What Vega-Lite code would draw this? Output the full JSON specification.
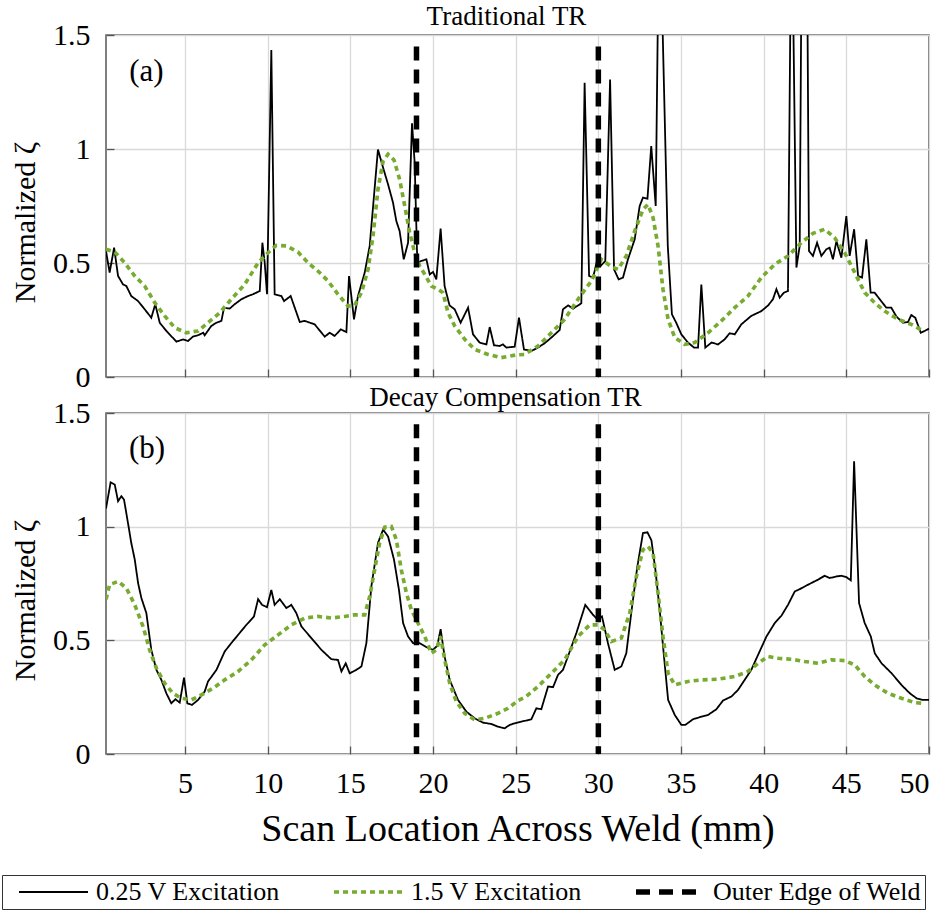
{
  "$schema": "https://vega.github.io/schema/vega-lite/v6.json",
  "padding": {"left": 1, "top": 2, "right": 5, "bottom": 0},
  "background": "white",
  "config": {
    "font": "Liberation Serif",
    "view": {"stroke": "#555555", "strokeWidth": 1.5},
    "axis": {
      "labelFont": "Liberation Serif", "labelFontSize": 30, "labelColor": "#000000",
      "titleFont": "Liberation Serif", "titleFontSize": 30, "titleFontWeight": "normal", "titleColor": "#000000",
      "gridColor": "#d9d9d9", "gridWidth": 1.3, "tickColor": "#555555", "tickSize": -8, "tickWidth": 1.3,
      "domain": false
    },
    "title": {"font": "Liberation Serif", "fontSize": 27, "fontWeight": "normal", "color": "#000000"},
    "legend": {"orient": "none", "legendX": -104, "legendY": 840, "direction": "horizontal", "symbolType": "M0,0H6.9", "symbolSize": 400, "labelOffset": 64, "columnPadding": 40, "strokeColor": "#333333", "padding": 4, "labelFont": "Liberation Serif", "labelFontSize": 26, "labelColor": "#000000", "labelLimit": 500}
  },
  "datasets": {
    "a": [
      {"series":"0.25 V Excitation","x":0.22,"y":0.553},{"series":"0.25 V Excitation","x":0.44,"y":0.458},{"series":"0.25 V Excitation","x":0.71,"y":0.567},{"series":"0.25 V Excitation","x":0.95,"y":0.443},{"series":"0.25 V Excitation","x":1.25,"y":0.406},{"series":"0.25 V Excitation","x":1.45,"y":0.399},{"series":"0.25 V Excitation","x":1.75,"y":0.355},{"series":"0.25 V Excitation","x":2.16,"y":0.333},{"series":"0.25 V Excitation","x":2.56,"y":0.297},{"series":"0.25 V Excitation","x":2.96,"y":0.26},{"series":"0.25 V Excitation","x":3.2,"y":0.319},{"series":"0.25 V Excitation","x":3.47,"y":0.238},{"series":"0.25 V Excitation","x":3.87,"y":0.202},{"series":"0.25 V Excitation","x":4.48,"y":0.155},{"series":"0.25 V Excitation","x":4.88,"y":0.165},{"series":"0.25 V Excitation","x":5.18,"y":0.158},{"series":"0.25 V Excitation","x":5.48,"y":0.177},{"series":"0.25 V Excitation","x":5.79,"y":0.183},{"series":"0.25 V Excitation","x":6.1,"y":0.194},{"series":"0.25 V Excitation","x":6.19,"y":0.183},{"series":"0.25 V Excitation","x":6.59,"y":0.224},{"series":"0.25 V Excitation","x":6.9,"y":0.238},{"series":"0.25 V Excitation","x":7.2,"y":0.246},{"series":"0.25 V Excitation","x":7.36,"y":0.304},{"series":"0.25 V Excitation","x":7.7,"y":0.3},{"series":"0.25 V Excitation","x":8.0,"y":0.319},{"series":"0.25 V Excitation","x":8.41,"y":0.341},{"series":"0.25 V Excitation","x":8.81,"y":0.355},{"series":"0.25 V Excitation","x":9.11,"y":0.363},{"series":"0.25 V Excitation","x":9.52,"y":0.377},{"series":"0.25 V Excitation","x":9.68,"y":0.589},{"series":"0.25 V Excitation","x":9.82,"y":0.501},{"series":"0.25 V Excitation","x":9.96,"y":0.363},{"series":"0.25 V Excitation","x":10.22,"y":1.434},{"series":"0.25 V Excitation","x":10.42,"y":0.363},{"series":"0.25 V Excitation","x":10.83,"y":0.355},{"series":"0.25 V Excitation","x":10.99,"y":0.333},{"series":"0.25 V Excitation","x":11.39,"y":0.355},{"series":"0.25 V Excitation","x":11.94,"y":0.241},{"series":"0.25 V Excitation","x":12.24,"y":0.246},{"series":"0.25 V Excitation","x":12.84,"y":0.231},{"series":"0.25 V Excitation","x":13.45,"y":0.177},{"series":"0.25 V Excitation","x":13.75,"y":0.194},{"series":"0.25 V Excitation","x":14.05,"y":0.18},{"series":"0.25 V Excitation","x":14.42,"y":0.209},{"series":"0.25 V Excitation","x":14.76,"y":0.197},{"series":"0.25 V Excitation","x":14.92,"y":0.443},{"series":"0.25 V Excitation","x":15.22,"y":0.253},{"series":"0.25 V Excitation","x":15.46,"y":0.355},{"series":"0.25 V Excitation","x":15.87,"y":0.458},{"series":"0.25 V Excitation","x":16.17,"y":0.575},{"series":"0.25 V Excitation","x":16.67,"y":0.998},{"series":"0.25 V Excitation","x":16.98,"y":0.918},{"series":"0.25 V Excitation","x":17.28,"y":0.845},{"series":"0.25 V Excitation","x":17.58,"y":0.765},{"series":"0.25 V Excitation","x":17.78,"y":0.684},{"series":"0.25 V Excitation","x":17.98,"y":0.64},{"series":"0.25 V Excitation","x":18.23,"y":0.516},{"series":"0.25 V Excitation","x":18.49,"y":0.589},{"series":"0.25 V Excitation","x":18.73,"y":1.113},{"series":"0.25 V Excitation","x":18.89,"y":0.94},{"series":"0.25 V Excitation","x":19.05,"y":0.501},{"series":"0.25 V Excitation","x":19.29,"y":0.509},{"series":"0.25 V Excitation","x":19.6,"y":0.516},{"series":"0.25 V Excitation","x":19.8,"y":0.45},{"series":"0.25 V Excitation","x":20.0,"y":0.461},{"series":"0.25 V Excitation","x":20.2,"y":0.428},{"series":"0.25 V Excitation","x":20.46,"y":0.651},{"series":"0.25 V Excitation","x":20.7,"y":0.399},{"series":"0.25 V Excitation","x":21.0,"y":0.314},{"series":"0.25 V Excitation","x":21.31,"y":0.297},{"series":"0.25 V Excitation","x":21.67,"y":0.238},{"series":"0.25 V Excitation","x":22.12,"y":0.304},{"series":"0.25 V Excitation","x":22.42,"y":0.187},{"series":"0.25 V Excitation","x":22.82,"y":0.151},{"series":"0.25 V Excitation","x":23.23,"y":0.143},{"series":"0.25 V Excitation","x":23.43,"y":0.219},{"series":"0.25 V Excitation","x":23.69,"y":0.139},{"series":"0.25 V Excitation","x":24.03,"y":0.136},{"series":"0.25 V Excitation","x":24.23,"y":0.143},{"series":"0.25 V Excitation","x":24.44,"y":0.129},{"series":"0.25 V Excitation","x":24.94,"y":0.133},{"series":"0.25 V Excitation","x":25.2,"y":0.26},{"series":"0.25 V Excitation","x":25.5,"y":0.121},{"series":"0.25 V Excitation","x":25.95,"y":0.114},{"series":"0.25 V Excitation","x":26.35,"y":0.129},{"series":"0.25 V Excitation","x":26.75,"y":0.148},{"series":"0.25 V Excitation","x":27.16,"y":0.173},{"series":"0.25 V Excitation","x":27.66,"y":0.206},{"series":"0.25 V Excitation","x":27.86,"y":0.297},{"series":"0.25 V Excitation","x":28.17,"y":0.314},{"series":"0.25 V Excitation","x":28.47,"y":0.3},{"series":"0.25 V Excitation","x":28.97,"y":0.323},{"series":"0.25 V Excitation","x":29.17,"y":1.291},{"series":"0.25 V Excitation","x":29.44,"y":0.443},{"series":"0.25 V Excitation","x":29.68,"y":0.436},{"series":"0.25 V Excitation","x":29.94,"y":0.516},{"series":"0.25 V Excitation","x":30.14,"y":0.487},{"series":"0.25 V Excitation","x":30.42,"y":0.509},{"series":"0.25 V Excitation","x":30.71,"y":1.305},{"series":"0.25 V Excitation","x":30.95,"y":0.472},{"series":"0.25 V Excitation","x":31.23,"y":0.428},{"series":"0.25 V Excitation","x":31.49,"y":0.436},{"series":"0.25 V Excitation","x":31.79,"y":0.516},{"series":"0.25 V Excitation","x":32.2,"y":0.604},{"series":"0.25 V Excitation","x":32.5,"y":0.75},{"series":"0.25 V Excitation","x":32.7,"y":0.787},{"series":"0.25 V Excitation","x":32.97,"y":0.782},{"series":"0.25 V Excitation","x":33.2,"y":1.013},{"series":"0.25 V Excitation","x":33.47,"y":0.75},{"series":"0.25 V Excitation","x":33.62,"y":1.7},{"series":"0.25 V Excitation","x":33.83,"y":1.7},{"series":"0.25 V Excitation","x":34.2,"y":0.575},{"series":"0.25 V Excitation","x":34.45,"y":0.275},{"series":"0.25 V Excitation","x":34.71,"y":0.238},{"series":"0.25 V Excitation","x":35.02,"y":0.187},{"series":"0.25 V Excitation","x":35.42,"y":0.151},{"series":"0.25 V Excitation","x":35.79,"y":0.129},{"series":"0.25 V Excitation","x":36.03,"y":0.129},{"series":"0.25 V Excitation","x":36.23,"y":0.406},{"series":"0.25 V Excitation","x":36.47,"y":0.129},{"series":"0.25 V Excitation","x":36.84,"y":0.151},{"series":"0.25 V Excitation","x":37.24,"y":0.143},{"series":"0.25 V Excitation","x":37.64,"y":0.165},{"series":"0.25 V Excitation","x":37.94,"y":0.192},{"series":"0.25 V Excitation","x":38.25,"y":0.187},{"series":"0.25 V Excitation","x":38.65,"y":0.231},{"series":"0.25 V Excitation","x":39.25,"y":0.268},{"series":"0.25 V Excitation","x":39.86,"y":0.289},{"series":"0.25 V Excitation","x":40.27,"y":0.314},{"series":"0.25 V Excitation","x":40.56,"y":0.341},{"series":"0.25 V Excitation","x":40.77,"y":0.385},{"series":"0.25 V Excitation","x":40.97,"y":0.348},{"series":"0.25 V Excitation","x":41.23,"y":0.37},{"series":"0.25 V Excitation","x":41.47,"y":0.377},{"series":"0.25 V Excitation","x":41.63,"y":1.7},{"series":"0.25 V Excitation","x":41.77,"y":1.7},{"series":"0.25 V Excitation","x":41.98,"y":0.48},{"series":"0.25 V Excitation","x":42.18,"y":0.575},{"series":"0.25 V Excitation","x":42.28,"y":1.7},{"series":"0.25 V Excitation","x":42.64,"y":1.7},{"series":"0.25 V Excitation","x":42.74,"y":0.553},{"series":"0.25 V Excitation","x":42.98,"y":0.531},{"series":"0.25 V Excitation","x":43.23,"y":0.589},{"series":"0.25 V Excitation","x":43.49,"y":0.531},{"series":"0.25 V Excitation","x":43.79,"y":0.56},{"series":"0.25 V Excitation","x":43.99,"y":0.567},{"series":"0.25 V Excitation","x":44.19,"y":0.516},{"series":"0.25 V Excitation","x":44.4,"y":0.596},{"series":"0.25 V Excitation","x":44.7,"y":0.523},{"series":"0.25 V Excitation","x":45.0,"y":0.706},{"series":"0.25 V Excitation","x":45.2,"y":0.531},{"series":"0.25 V Excitation","x":45.47,"y":0.648},{"series":"0.25 V Excitation","x":45.71,"y":0.443},{"series":"0.25 V Excitation","x":45.95,"y":0.436},{"series":"0.25 V Excitation","x":46.21,"y":0.604},{"series":"0.25 V Excitation","x":46.47,"y":0.37},{"series":"0.25 V Excitation","x":46.71,"y":0.37},{"series":"0.25 V Excitation","x":47.02,"y":0.341},{"series":"0.25 V Excitation","x":47.42,"y":0.304},{"series":"0.25 V Excitation","x":47.72,"y":0.304},{"series":"0.25 V Excitation","x":48.03,"y":0.265},{"series":"0.25 V Excitation","x":48.43,"y":0.238},{"series":"0.25 V Excitation","x":48.73,"y":0.241},{"series":"0.25 V Excitation","x":48.93,"y":0.272},{"series":"0.25 V Excitation","x":49.17,"y":0.26},{"series":"0.25 V Excitation","x":49.5,"y":0.194},{"series":"0.25 V Excitation","x":49.74,"y":0.202},{"series":"0.25 V Excitation","x":50.0,"y":0.212},
      {"series":"1.5 V Excitation","x":0.22,"y":0.56},{"series":"1.5 V Excitation","x":0.75,"y":0.548},{"series":"1.5 V Excitation","x":1.35,"y":0.501},{"series":"1.5 V Excitation","x":1.96,"y":0.443},{"series":"1.5 V Excitation","x":2.56,"y":0.399},{"series":"1.5 V Excitation","x":3.17,"y":0.326},{"series":"1.5 V Excitation","x":3.77,"y":0.268},{"series":"1.5 V Excitation","x":4.38,"y":0.216},{"series":"1.5 V Excitation","x":5.08,"y":0.194},{"series":"1.5 V Excitation","x":5.79,"y":0.202},{"series":"1.5 V Excitation","x":6.39,"y":0.238},{"series":"1.5 V Excitation","x":7.1,"y":0.282},{"series":"1.5 V Excitation","x":7.8,"y":0.341},{"series":"1.5 V Excitation","x":8.61,"y":0.406},{"series":"1.5 V Excitation","x":9.42,"y":0.501},{"series":"1.5 V Excitation","x":10.02,"y":0.545},{"series":"1.5 V Excitation","x":10.52,"y":0.577},{"series":"1.5 V Excitation","x":11.13,"y":0.575},{"series":"1.5 V Excitation","x":11.83,"y":0.548},{"series":"1.5 V Excitation","x":12.44,"y":0.501},{"series":"1.5 V Excitation","x":13.04,"y":0.465},{"series":"1.5 V Excitation","x":13.65,"y":0.421},{"series":"1.5 V Excitation","x":14.25,"y":0.363},{"series":"1.5 V Excitation","x":14.86,"y":0.311},{"series":"1.5 V Excitation","x":15.26,"y":0.314},{"series":"1.5 V Excitation","x":15.67,"y":0.37},{"series":"1.5 V Excitation","x":16.07,"y":0.472},{"series":"1.5 V Excitation","x":16.37,"y":0.618},{"series":"1.5 V Excitation","x":16.67,"y":0.823},{"series":"1.5 V Excitation","x":16.98,"y":0.947},{"series":"1.5 V Excitation","x":17.28,"y":0.977},{"series":"1.5 V Excitation","x":17.64,"y":0.952},{"series":"1.5 V Excitation","x":17.98,"y":0.867},{"series":"1.5 V Excitation","x":18.29,"y":0.75},{"series":"1.5 V Excitation","x":18.59,"y":0.633},{"series":"1.5 V Excitation","x":18.89,"y":0.545},{"series":"1.5 V Excitation","x":19.19,"y":0.487},{"series":"1.5 V Excitation","x":19.5,"y":0.45},{"series":"1.5 V Excitation","x":19.9,"y":0.399},{"series":"1.5 V Excitation","x":20.3,"y":0.385},{"series":"1.5 V Excitation","x":20.6,"y":0.37},{"series":"1.5 V Excitation","x":20.91,"y":0.282},{"series":"1.5 V Excitation","x":21.31,"y":0.224},{"series":"1.5 V Excitation","x":21.92,"y":0.165},{"series":"1.5 V Excitation","x":22.52,"y":0.121},{"series":"1.5 V Excitation","x":23.33,"y":0.099},{"series":"1.5 V Excitation","x":24.13,"y":0.085},{"series":"1.5 V Excitation","x":25.04,"y":0.097},{"series":"1.5 V Excitation","x":25.54,"y":0.099},{"series":"1.5 V Excitation","x":26.35,"y":0.136},{"series":"1.5 V Excitation","x":27.16,"y":0.194},{"series":"1.5 V Excitation","x":27.96,"y":0.253},{"series":"1.5 V Excitation","x":28.77,"y":0.341},{"series":"1.5 V Excitation","x":29.58,"y":0.421},{"series":"1.5 V Excitation","x":30.18,"y":0.516},{"series":"1.5 V Excitation","x":30.79,"y":0.484},{"series":"1.5 V Excitation","x":31.19,"y":0.472},{"series":"1.5 V Excitation","x":31.69,"y":0.531},{"series":"1.5 V Excitation","x":32.2,"y":0.64},{"series":"1.5 V Excitation","x":32.7,"y":0.735},{"series":"1.5 V Excitation","x":33.0,"y":0.757},{"series":"1.5 V Excitation","x":33.31,"y":0.699},{"series":"1.5 V Excitation","x":33.61,"y":0.575},{"series":"1.5 V Excitation","x":33.91,"y":0.385},{"series":"1.5 V Excitation","x":34.22,"y":0.253},{"series":"1.5 V Excitation","x":34.62,"y":0.173},{"series":"1.5 V Excitation","x":35.22,"y":0.143},{"series":"1.5 V Excitation","x":35.83,"y":0.151},{"series":"1.5 V Excitation","x":36.64,"y":0.194},{"series":"1.5 V Excitation","x":37.44,"y":0.246},{"series":"1.5 V Excitation","x":38.25,"y":0.304},{"series":"1.5 V Excitation","x":39.05,"y":0.355},{"series":"1.5 V Excitation","x":39.86,"y":0.436},{"series":"1.5 V Excitation","x":40.67,"y":0.494},{"series":"1.5 V Excitation","x":41.47,"y":0.531},{"series":"1.5 V Excitation","x":42.28,"y":0.589},{"series":"1.5 V Excitation","x":42.98,"y":0.63},{"series":"1.5 V Excitation","x":43.69,"y":0.648},{"series":"1.5 V Excitation","x":44.29,"y":0.611},{"series":"1.5 V Excitation","x":44.9,"y":0.545},{"series":"1.5 V Excitation","x":45.51,"y":0.458},{"series":"1.5 V Excitation","x":46.11,"y":0.37},{"series":"1.5 V Excitation","x":46.71,"y":0.326},{"series":"1.5 V Excitation","x":47.32,"y":0.289},{"series":"1.5 V Excitation","x":48.13,"y":0.253},{"series":"1.5 V Excitation","x":48.93,"y":0.231},{"series":"1.5 V Excitation","x":49.64,"y":0.202}
    ],
    "b": [
      {"series":"0.25 V Excitation","x":0.22,"y":1.08},{"series":"0.25 V Excitation","x":0.5,"y":1.195},{"series":"0.25 V Excitation","x":0.75,"y":1.185},{"series":"0.25 V Excitation","x":0.95,"y":1.112},{"series":"0.25 V Excitation","x":1.15,"y":1.134},{"series":"0.25 V Excitation","x":1.31,"y":1.119},{"series":"0.25 V Excitation","x":1.55,"y":1.016},{"series":"0.25 V Excitation","x":1.75,"y":0.928},{"series":"0.25 V Excitation","x":1.96,"y":0.855},{"series":"0.25 V Excitation","x":2.16,"y":0.752},{"series":"0.25 V Excitation","x":2.36,"y":0.686},{"series":"0.25 V Excitation","x":2.66,"y":0.62},{"series":"0.25 V Excitation","x":2.96,"y":0.458},{"series":"0.25 V Excitation","x":3.27,"y":0.37},{"series":"0.25 V Excitation","x":3.57,"y":0.326},{"series":"0.25 V Excitation","x":3.87,"y":0.267},{"series":"0.25 V Excitation","x":4.17,"y":0.223},{"series":"0.25 V Excitation","x":4.42,"y":0.241},{"series":"0.25 V Excitation","x":4.68,"y":0.226},{"series":"0.25 V Excitation","x":4.94,"y":0.336},{"series":"0.25 V Excitation","x":5.14,"y":0.223},{"series":"0.25 V Excitation","x":5.42,"y":0.216},{"series":"0.25 V Excitation","x":5.79,"y":0.238},{"series":"0.25 V Excitation","x":6.19,"y":0.275},{"series":"0.25 V Excitation","x":6.39,"y":0.319},{"series":"0.25 V Excitation","x":6.9,"y":0.37},{"series":"0.25 V Excitation","x":7.4,"y":0.451},{"series":"0.25 V Excitation","x":7.8,"y":0.488},{"series":"0.25 V Excitation","x":8.21,"y":0.524},{"series":"0.25 V Excitation","x":8.71,"y":0.568},{"series":"0.25 V Excitation","x":9.17,"y":0.605},{"series":"0.25 V Excitation","x":9.42,"y":0.681},{"series":"0.25 V Excitation","x":9.66,"y":0.656},{"series":"0.25 V Excitation","x":9.96,"y":0.646},{"series":"0.25 V Excitation","x":10.22,"y":0.722},{"series":"0.25 V Excitation","x":10.42,"y":0.656},{"series":"0.25 V Excitation","x":10.73,"y":0.681},{"series":"0.25 V Excitation","x":11.13,"y":0.642},{"series":"0.25 V Excitation","x":11.43,"y":0.656},{"series":"0.25 V Excitation","x":11.73,"y":0.62},{"series":"0.25 V Excitation","x":12.04,"y":0.561},{"series":"0.25 V Excitation","x":12.64,"y":0.51},{"series":"0.25 V Excitation","x":13.25,"y":0.458},{"series":"0.25 V Excitation","x":13.85,"y":0.417},{"series":"0.25 V Excitation","x":14.25,"y":0.414},{"series":"0.25 V Excitation","x":14.46,"y":0.363},{"series":"0.25 V Excitation","x":14.72,"y":0.399},{"series":"0.25 V Excitation","x":14.96,"y":0.355},{"series":"0.25 V Excitation","x":15.36,"y":0.37},{"series":"0.25 V Excitation","x":15.67,"y":0.385},{"series":"0.25 V Excitation","x":15.97,"y":0.488},{"series":"0.25 V Excitation","x":16.27,"y":0.737},{"series":"0.25 V Excitation","x":16.67,"y":0.928},{"series":"0.25 V Excitation","x":16.98,"y":0.987},{"series":"0.25 V Excitation","x":17.28,"y":0.957},{"series":"0.25 V Excitation","x":17.64,"y":0.855},{"series":"0.25 V Excitation","x":17.94,"y":0.722},{"series":"0.25 V Excitation","x":18.19,"y":0.576},{"series":"0.25 V Excitation","x":18.49,"y":0.517},{"series":"0.25 V Excitation","x":18.79,"y":0.488},{"series":"0.25 V Excitation","x":19.19,"y":0.488},{"series":"0.25 V Excitation","x":19.6,"y":0.47},{"series":"0.25 V Excitation","x":20.0,"y":0.458},{"series":"0.25 V Excitation","x":20.26,"y":0.476},{"series":"0.25 V Excitation","x":20.46,"y":0.549},{"series":"0.25 V Excitation","x":20.7,"y":0.429},{"series":"0.25 V Excitation","x":21.01,"y":0.326},{"series":"0.25 V Excitation","x":21.51,"y":0.238},{"series":"0.25 V Excitation","x":22.02,"y":0.186},{"series":"0.25 V Excitation","x":22.52,"y":0.157},{"series":"0.25 V Excitation","x":23.02,"y":0.138},{"series":"0.25 V Excitation","x":23.53,"y":0.132},{"series":"0.25 V Excitation","x":23.93,"y":0.12},{"series":"0.25 V Excitation","x":24.33,"y":0.113},{"series":"0.25 V Excitation","x":24.64,"y":0.128},{"series":"0.25 V Excitation","x":24.94,"y":0.135},{"series":"0.25 V Excitation","x":25.34,"y":0.142},{"series":"0.25 V Excitation","x":25.95,"y":0.153},{"series":"0.25 V Excitation","x":26.25,"y":0.201},{"series":"0.25 V Excitation","x":26.55,"y":0.197},{"series":"0.25 V Excitation","x":26.96,"y":0.297},{"series":"0.25 V Excitation","x":27.26,"y":0.294},{"series":"0.25 V Excitation","x":27.56,"y":0.348},{"series":"0.25 V Excitation","x":27.86,"y":0.37},{"series":"0.25 V Excitation","x":28.27,"y":0.451},{"series":"0.25 V Excitation","x":28.67,"y":0.532},{"series":"0.25 V Excitation","x":29.21,"y":0.656},{"series":"0.25 V Excitation","x":29.68,"y":0.612},{"series":"0.25 V Excitation","x":29.94,"y":0.593},{"series":"0.25 V Excitation","x":30.22,"y":0.605},{"series":"0.25 V Excitation","x":30.58,"y":0.488},{"series":"0.25 V Excitation","x":30.99,"y":0.37},{"series":"0.25 V Excitation","x":31.39,"y":0.385},{"series":"0.25 V Excitation","x":31.69,"y":0.443},{"series":"0.25 V Excitation","x":31.99,"y":0.62},{"series":"0.25 V Excitation","x":32.36,"y":0.825},{"series":"0.25 V Excitation","x":32.7,"y":0.972},{"series":"0.25 V Excitation","x":32.97,"y":0.975},{"series":"0.25 V Excitation","x":33.21,"y":0.94},{"series":"0.25 V Excitation","x":33.45,"y":0.811},{"series":"0.25 V Excitation","x":33.71,"y":0.634},{"series":"0.25 V Excitation","x":33.97,"y":0.429},{"series":"0.25 V Excitation","x":34.22,"y":0.238},{"series":"0.25 V Excitation","x":34.62,"y":0.172},{"series":"0.25 V Excitation","x":35.02,"y":0.128},{"series":"0.25 V Excitation","x":35.26,"y":0.128},{"series":"0.25 V Excitation","x":35.73,"y":0.153},{"series":"0.25 V Excitation","x":36.23,"y":0.164},{"series":"0.25 V Excitation","x":36.64,"y":0.172},{"series":"0.25 V Excitation","x":37.14,"y":0.197},{"series":"0.25 V Excitation","x":37.54,"y":0.235},{"series":"0.25 V Excitation","x":38.05,"y":0.253},{"series":"0.25 V Excitation","x":38.45,"y":0.282},{"series":"0.25 V Excitation","x":38.85,"y":0.326},{"series":"0.25 V Excitation","x":39.25,"y":0.37},{"series":"0.25 V Excitation","x":39.66,"y":0.436},{"series":"0.25 V Excitation","x":40.17,"y":0.517},{"series":"0.25 V Excitation","x":40.67,"y":0.576},{"series":"0.25 V Excitation","x":41.07,"y":0.608},{"series":"0.25 V Excitation","x":41.47,"y":0.656},{"series":"0.25 V Excitation","x":41.88,"y":0.715},{"series":"0.25 V Excitation","x":42.18,"y":0.725},{"series":"0.25 V Excitation","x":42.48,"y":0.737},{"series":"0.25 V Excitation","x":42.88,"y":0.752},{"series":"0.25 V Excitation","x":43.29,"y":0.767},{"series":"0.25 V Excitation","x":43.69,"y":0.784},{"series":"0.25 V Excitation","x":43.99,"y":0.774},{"series":"0.25 V Excitation","x":44.4,"y":0.781},{"series":"0.25 V Excitation","x":44.7,"y":0.784},{"series":"0.25 V Excitation","x":45.0,"y":0.778},{"series":"0.25 V Excitation","x":45.27,"y":0.764},{"series":"0.25 V Excitation","x":45.47,"y":1.288},{"series":"0.25 V Excitation","x":45.77,"y":0.664},{"series":"0.25 V Excitation","x":46.11,"y":0.576},{"series":"0.25 V Excitation","x":46.48,"y":0.517},{"series":"0.25 V Excitation","x":46.72,"y":0.443},{"series":"0.25 V Excitation","x":47.13,"y":0.399},{"series":"0.25 V Excitation","x":47.74,"y":0.355},{"series":"0.25 V Excitation","x":48.33,"y":0.304},{"series":"0.25 V Excitation","x":48.84,"y":0.267},{"series":"0.25 V Excitation","x":49.25,"y":0.245},{"series":"0.25 V Excitation","x":49.64,"y":0.238},{"series":"0.25 V Excitation","x":50.0,"y":0.238},
      {"series":"1.5 V Excitation","x":0.22,"y":0.68},{"series":"1.5 V Excitation","x":0.44,"y":0.745},{"series":"1.5 V Excitation","x":0.95,"y":0.759},{"series":"1.5 V Excitation","x":1.45,"y":0.73},{"series":"1.5 V Excitation","x":1.96,"y":0.656},{"series":"1.5 V Excitation","x":2.46,"y":0.561},{"series":"1.5 V Excitation","x":2.86,"y":0.458},{"series":"1.5 V Excitation","x":3.27,"y":0.377},{"series":"1.5 V Excitation","x":3.77,"y":0.311},{"series":"1.5 V Excitation","x":4.27,"y":0.267},{"series":"1.5 V Excitation","x":4.78,"y":0.245},{"series":"1.5 V Excitation","x":5.38,"y":0.238},{"series":"1.5 V Excitation","x":5.99,"y":0.26},{"series":"1.5 V Excitation","x":6.69,"y":0.289},{"series":"1.5 V Excitation","x":7.4,"y":0.326},{"series":"1.5 V Excitation","x":8.21,"y":0.363},{"series":"1.5 V Excitation","x":9.01,"y":0.414},{"series":"1.5 V Excitation","x":9.82,"y":0.48},{"series":"1.5 V Excitation","x":10.63,"y":0.524},{"series":"1.5 V Excitation","x":11.43,"y":0.568},{"series":"1.5 V Excitation","x":12.24,"y":0.598},{"series":"1.5 V Excitation","x":13.04,"y":0.605},{"series":"1.5 V Excitation","x":13.85,"y":0.598},{"series":"1.5 V Excitation","x":14.66,"y":0.605},{"series":"1.5 V Excitation","x":15.26,"y":0.612},{"series":"1.5 V Excitation","x":15.87,"y":0.612},{"series":"1.5 V Excitation","x":16.17,"y":0.693},{"series":"1.5 V Excitation","x":16.47,"y":0.811},{"series":"1.5 V Excitation","x":16.77,"y":0.928},{"series":"1.5 V Excitation","x":17.08,"y":0.998},{"series":"1.5 V Excitation","x":17.48,"y":1.001},{"series":"1.5 V Excitation","x":17.78,"y":0.943},{"series":"1.5 V Excitation","x":18.08,"y":0.811},{"series":"1.5 V Excitation","x":18.39,"y":0.708},{"series":"1.5 V Excitation","x":18.69,"y":0.634},{"series":"1.5 V Excitation","x":19.09,"y":0.576},{"series":"1.5 V Excitation","x":19.5,"y":0.517},{"series":"1.5 V Excitation","x":19.9,"y":0.443},{"series":"1.5 V Excitation","x":20.2,"y":0.458},{"series":"1.5 V Excitation","x":20.46,"y":0.517},{"series":"1.5 V Excitation","x":20.71,"y":0.414},{"series":"1.5 V Excitation","x":21.01,"y":0.311},{"series":"1.5 V Excitation","x":21.41,"y":0.231},{"series":"1.5 V Excitation","x":21.92,"y":0.179},{"series":"1.5 V Excitation","x":22.52,"y":0.15},{"series":"1.5 V Excitation","x":23.13,"y":0.157},{"series":"1.5 V Excitation","x":23.93,"y":0.179},{"series":"1.5 V Excitation","x":24.54,"y":0.201},{"series":"1.5 V Excitation","x":25.14,"y":0.235},{"series":"1.5 V Excitation","x":25.64,"y":0.253},{"series":"1.5 V Excitation","x":26.35,"y":0.297},{"series":"1.5 V Excitation","x":27.16,"y":0.355},{"series":"1.5 V Excitation","x":27.96,"y":0.414},{"series":"1.5 V Excitation","x":28.77,"y":0.517},{"series":"1.5 V Excitation","x":29.48,"y":0.568},{"series":"1.5 V Excitation","x":29.98,"y":0.568},{"series":"1.5 V Excitation","x":30.38,"y":0.546},{"series":"1.5 V Excitation","x":30.79,"y":0.495},{"series":"1.5 V Excitation","x":31.39,"y":0.51},{"series":"1.5 V Excitation","x":31.9,"y":0.62},{"series":"1.5 V Excitation","x":32.3,"y":0.781},{"series":"1.5 V Excitation","x":32.7,"y":0.899},{"series":"1.5 V Excitation","x":33.0,"y":0.913},{"series":"1.5 V Excitation","x":33.31,"y":0.884},{"series":"1.5 V Excitation","x":33.61,"y":0.708},{"series":"1.5 V Excitation","x":33.91,"y":0.517},{"series":"1.5 V Excitation","x":34.22,"y":0.355},{"series":"1.5 V Excitation","x":34.62,"y":0.304},{"series":"1.5 V Excitation","x":35.42,"y":0.319},{"series":"1.5 V Excitation","x":36.23,"y":0.326},{"series":"1.5 V Excitation","x":37.24,"y":0.329},{"series":"1.5 V Excitation","x":38.25,"y":0.341},{"series":"1.5 V Excitation","x":39.05,"y":0.363},{"series":"1.5 V Excitation","x":39.66,"y":0.399},{"series":"1.5 V Excitation","x":40.26,"y":0.429},{"series":"1.5 V Excitation","x":40.87,"y":0.421},{"series":"1.5 V Excitation","x":41.67,"y":0.417},{"series":"1.5 V Excitation","x":42.48,"y":0.407},{"series":"1.5 V Excitation","x":43.29,"y":0.399},{"series":"1.5 V Excitation","x":44.09,"y":0.414},{"series":"1.5 V Excitation","x":44.9,"y":0.411},{"series":"1.5 V Excitation","x":45.51,"y":0.392},{"series":"1.5 V Excitation","x":46.11,"y":0.341},{"series":"1.5 V Excitation","x":46.71,"y":0.304},{"series":"1.5 V Excitation","x":47.52,"y":0.267},{"series":"1.5 V Excitation","x":48.33,"y":0.245},{"series":"1.5 V Excitation","x":49.13,"y":0.226},{"series":"1.5 V Excitation","x":49.64,"y":0.223}
    ],
    "edges": [
      {"series":"Outer Edge of Weld","x":19,"top":1.45,"bottom":0},
      {"series":"Outer Edge of Weld","x":30,"top":1.45,"bottom":0}
    ]
  },
  "vconcat": [
    {
      "width": 823, "height": 342,
      "title": {"text": "Traditional TR", "offset": -11, "dx": -11},
      "layer": [
        {
          "data": {"name": "a"},
          "mark": {"type": "line", "clip": true},
          "encoding": {
            "x": {"field": "x", "type": "quantitative", "scale": {"domain": [0.22, 50], "nice": false, "zero": false},
                  "axis": {"values": [5,10,15,20,25,30,35,40,45,50], "labels": false, "labelPadding": 0, "title": null}},
            "y": {"field": "y", "type": "quantitative", "scale": {"domain": [0, 1.5], "nice": false},
                  "axis": {"values": [0, 0.5, 1, 1.5], "labelExpr": "datum.value", "labelPadding": 24, "title": "Normalized ζ", "titleFont": "Liberation Serif", "titleFontSize": 30, "titlePadding": 12, "titleY": 187}},
            "color": {"field": "series", "type": "nominal", "scale": {"domain": ["0.25 V Excitation","1.5 V Excitation","Outer Edge of Weld"], "range": ["#000000","#77ac30","#000000"]}, "legend": {"title": null, "symbolType": "M0,0H6.9"}},
            "strokeDash": {"field": "series", "type": "nominal", "scale": {"domain": ["0.25 V Excitation","1.5 V Excitation","Outer Edge of Weld"], "range": [[1,0],[5,4],[14,9]]}, "legend": {"title": null, "symbolType": "M0,0H6.9"}},
            "strokeWidth": {"field": "series", "type": "nominal", "scale": {"domain": ["0.25 V Excitation","1.5 V Excitation","Outer Edge of Weld"], "range": [1.8,5.5,4]}, "legend": {"title": null, "symbolType": "M0,0H6.9"}},
            "order": {"field": "x", "type": "quantitative"}
          }
        },
        {
          "data": {"name": "edges"},
          "mark": {"type": "rule"},
          "encoding": {
            "x": {"field": "x", "type": "quantitative"},
            "y": {"field": "top", "type": "quantitative"},
            "y2": {"field": "bottom"},
            "color": {"field": "series", "type": "nominal", "legend": {"title": null, "symbolType": "M0,0H6.9"}},
            "strokeDash": {"field": "series", "type": "nominal", "legend": {"title": null, "symbolType": "M0,0H6.9"}},
            "strokeWidth": {"field": "series", "type": "nominal", "legend": {"title": null, "symbolType": "M0,0H6.9"}}
          }
        },
        {
          "data": {"values": [{"label": "(a)", "x": 2.66, "y": 1.336}]},
          "mark": {"type": "text", "font": "Liberation Serif", "fontSize": 31, "baseline": "middle", "align": "center"},
          "encoding": {
            "x": {"field": "x", "type": "quantitative"},
            "y": {"field": "y", "type": "quantitative"},
            "text": {"field": "label"}
          }
        }
      ]
    },
    {
      "width": 823, "height": 341,
      "title": {"text": "Decay Compensation TR", "offset": -14, "dx": -12},
      "layer": [
        {
          "data": {"name": "b"},
          "mark": {"type": "line", "clip": true},
          "encoding": {
            "x": {"field": "x", "type": "quantitative", "scale": {"domain": [0.22, 50], "nice": false, "zero": false},
                  "axis": {"values": [5,10,15,20,25,30,35,40,45,50], "labelPadding": 22, "title": "Scan Location Across Weld (mm)", "titleFontSize": 38, "titlePadding": 12}},
            "y": {"field": "y", "type": "quantitative", "scale": {"domain": [0, 1.5], "nice": false},
                  "axis": {"values": [0, 0.5, 1, 1.5], "labelExpr": "datum.value", "labelPadding": 24, "title": "Normalized ζ", "titleFont": "Liberation Serif", "titleFontSize": 30, "titlePadding": 12, "titleY": 187}},
            "color": {"field": "series", "type": "nominal", "scale": {"domain": ["0.25 V Excitation","1.5 V Excitation","Outer Edge of Weld"], "range": ["#000000","#77ac30","#000000"]}, "legend": {"title": null, "symbolType": "M0,0H6.9"}},
            "strokeDash": {"field": "series", "type": "nominal", "scale": {"domain": ["0.25 V Excitation","1.5 V Excitation","Outer Edge of Weld"], "range": [[1,0],[5,4],[14,9]]}, "legend": {"title": null, "symbolType": "M0,0H6.9"}},
            "strokeWidth": {"field": "series", "type": "nominal", "scale": {"domain": ["0.25 V Excitation","1.5 V Excitation","Outer Edge of Weld"], "range": [1.8,5.5,4]}, "legend": {"title": null, "symbolType": "M0,0H6.9"}},
            "order": {"field": "x", "type": "quantitative"}
          }
        },
        {
          "data": {"name": "edges"},
          "mark": {"type": "rule"},
          "encoding": {
            "x": {"field": "x", "type": "quantitative"},
            "y": {"field": "top", "type": "quantitative"},
            "y2": {"field": "bottom"},
            "color": {"field": "series", "type": "nominal", "legend": {"title": null, "symbolType": "M0,0H6.9"}},
            "strokeDash": {"field": "series", "type": "nominal", "legend": {"title": null, "symbolType": "M0,0H6.9"}},
            "strokeWidth": {"field": "series", "type": "nominal", "legend": {"title": null, "symbolType": "M0,0H6.9"}}
          }
        },
        {
          "data": {"values": [{"label": "(b)", "x": 2.7, "y": 1.34}]},
          "mark": {"type": "text", "font": "Liberation Serif", "fontSize": 31, "baseline": "middle", "align": "center"},
          "encoding": {
            "x": {"field": "x", "type": "quantitative"},
            "y": {"field": "y", "type": "quantitative"},
            "text": {"field": "label"}
          }
        }
      ]
    }
  ],
  "spacing": -10
}
